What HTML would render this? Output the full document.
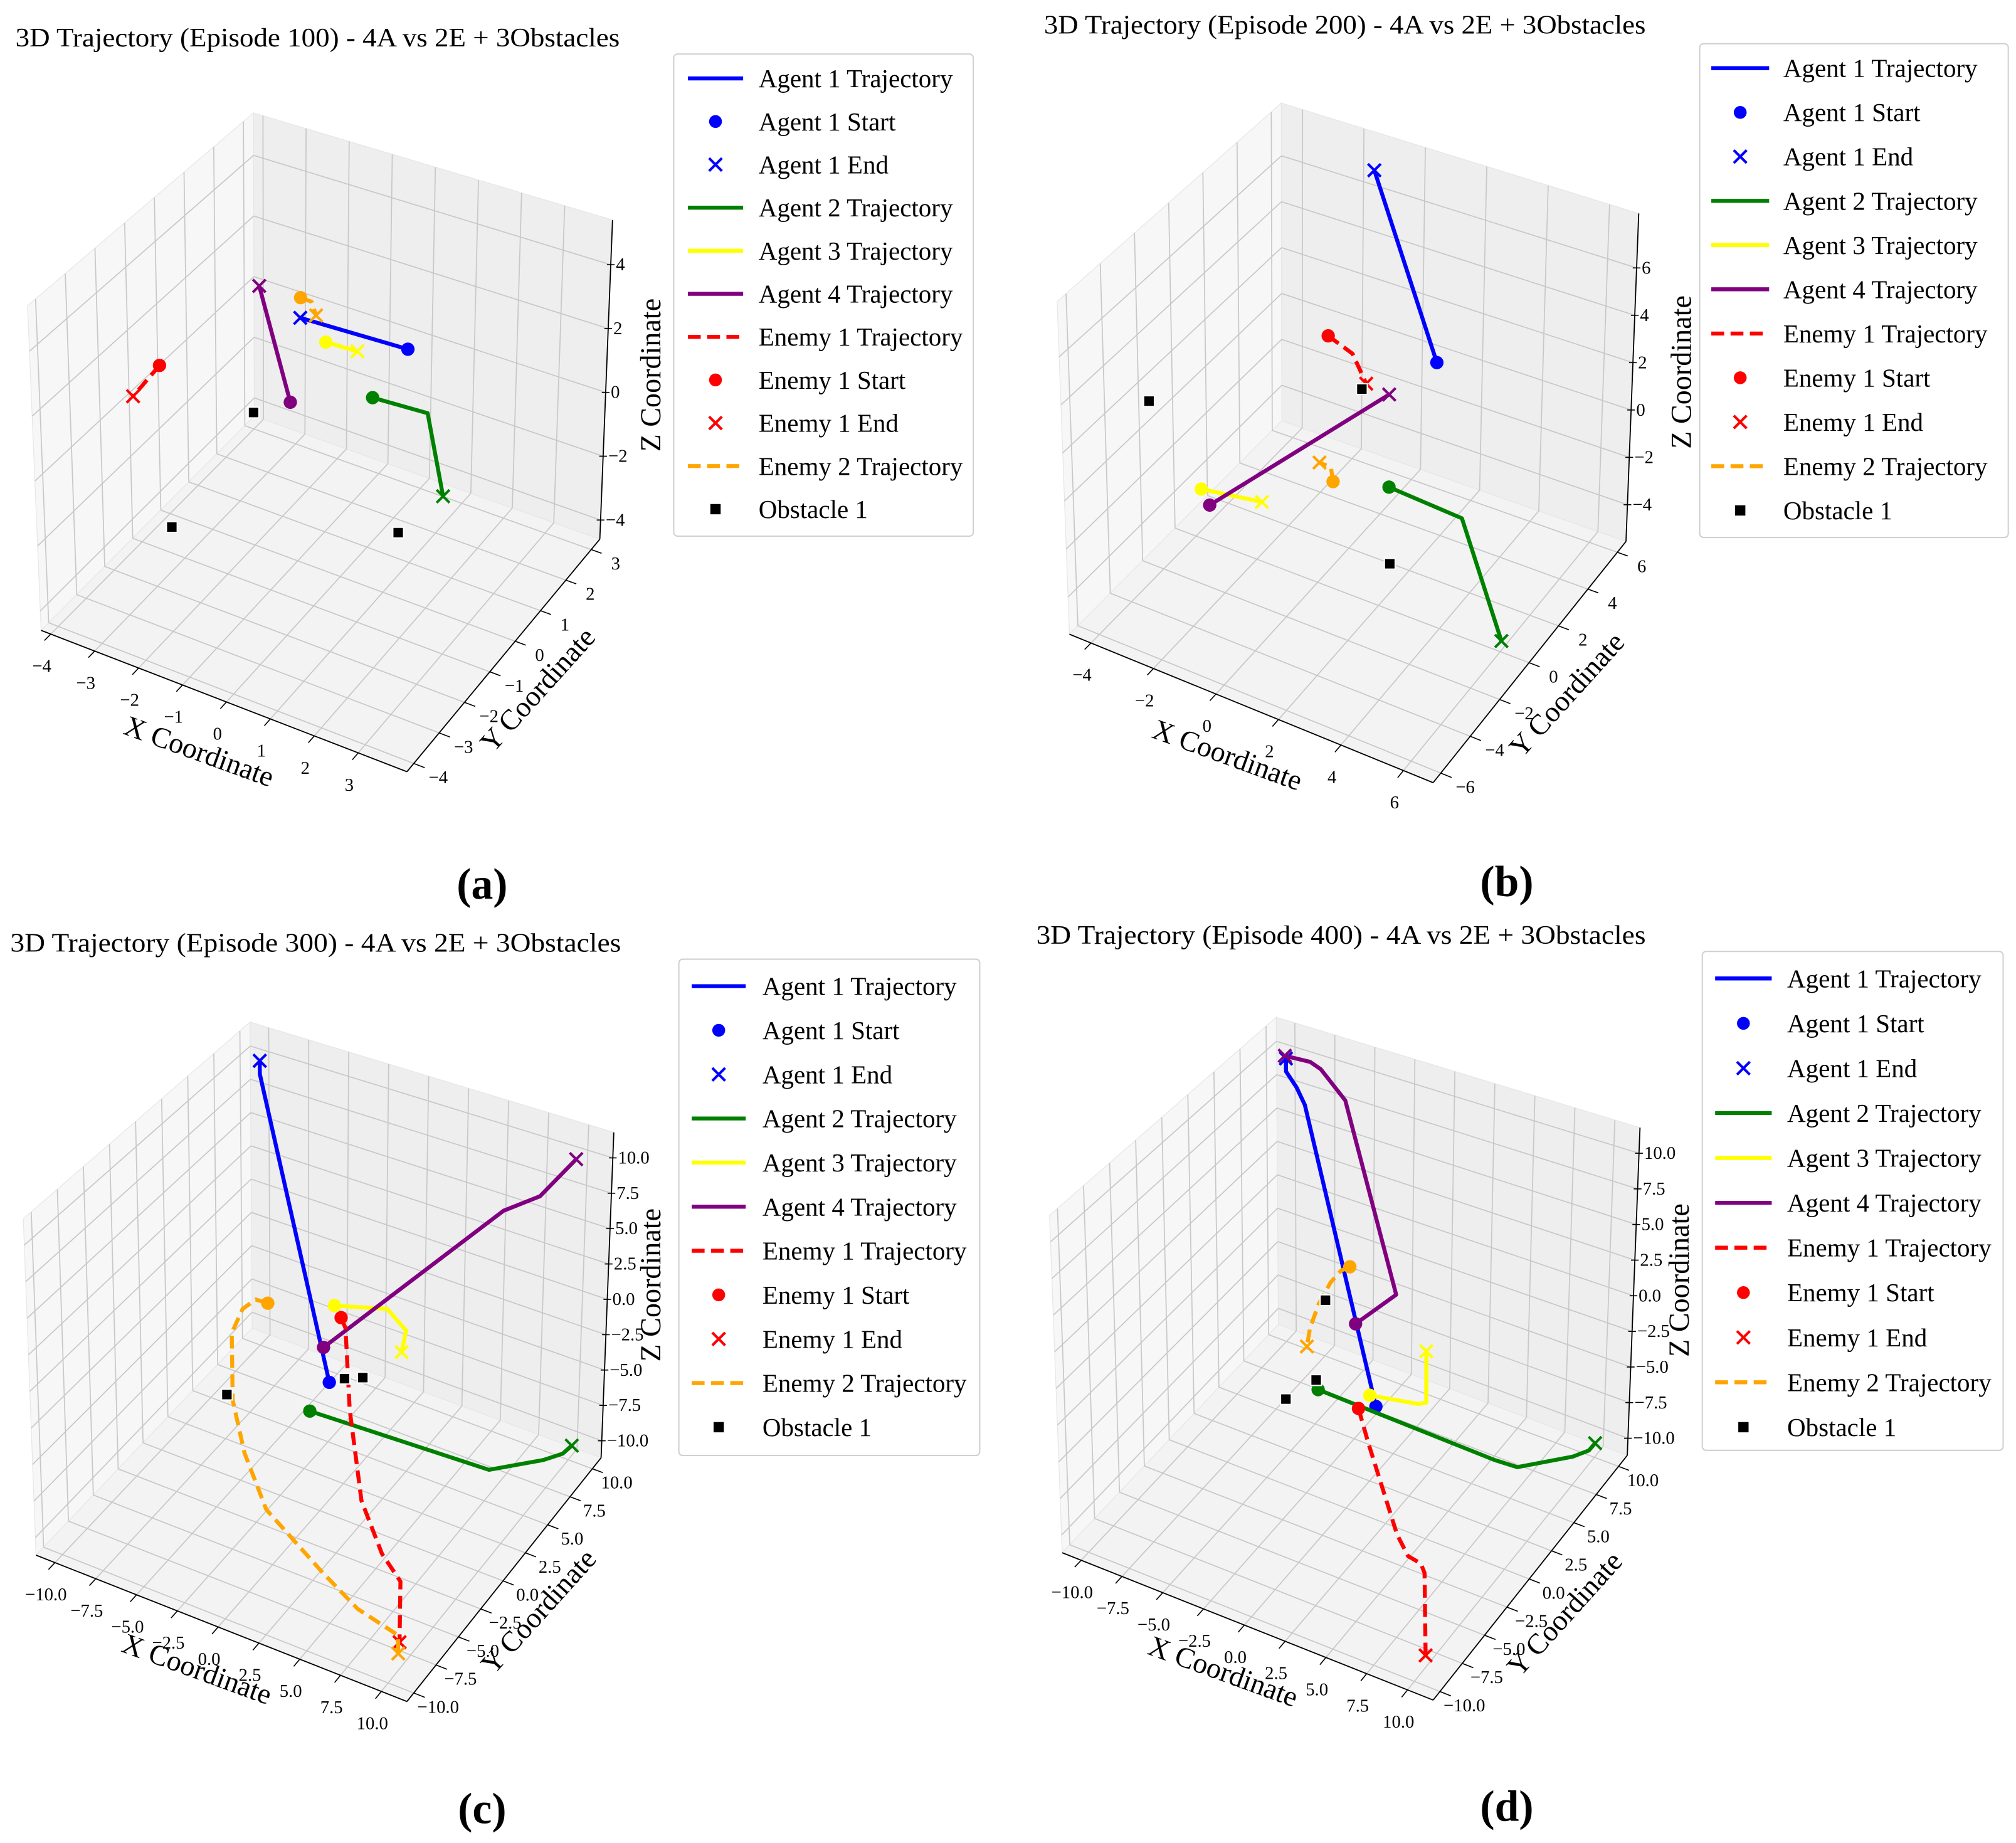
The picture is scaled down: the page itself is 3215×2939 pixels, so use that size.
<!DOCTYPE html>
<html><head><meta charset="utf-8"><title>3D Trajectories</title>
<style>
html,body{margin:0;padding:0;background:#fff;}
svg{display:block;font-family:"Liberation Serif",serif;}
</style></head>
<body>
<svg id="fig" xmlns="http://www.w3.org/2000/svg" width="3215" height="2939" viewBox="0 0 1568 1433.4">
<rect x="0" y="0" width="1568" height="1433.4" fill="#ffffff"/>
<text x="12" y="36" font-size="20.5" textLength="470" lengthAdjust="spacingAndGlyphs">3D Trajectory (Episode 100) - 4A vs 2E + 3Obstacles</text>
<text x="812" y="26" font-size="20.5" textLength="468" lengthAdjust="spacingAndGlyphs">3D Trajectory (Episode 200) - 4A vs 2E + 3Obstacles</text>
<text x="8" y="740" font-size="20.5" textLength="475" lengthAdjust="spacingAndGlyphs">3D Trajectory (Episode 300) - 4A vs 2E + 3Obstacles</text>
<text x="806" y="734" font-size="20.5" textLength="474" lengthAdjust="spacingAndGlyphs">3D Trajectory (Episode 400) - 4A vs 2E + 3Obstacles</text>
<text x="375" y="699" font-size="34" font-weight="bold" text-anchor="middle">(a)</text>
<text x="1172" y="697" font-size="34" font-weight="bold" text-anchor="middle">(b)</text>
<text x="375" y="1418" font-size="34" font-weight="bold" text-anchor="middle">(c)</text>
<text x="1172" y="1416" font-size="34" font-weight="bold" text-anchor="middle">(d)</text>
</svg>
<script>
// ---------- tick arrays ----------
const a_xTicks = [-4,-3,-2,-1,0,1,2,3];
const a_yTicks = [-4,-3,-2,-1,0,1,2,3];
const a_zTicks = [-4,-2,0,2,4];
const b_xTicks = [-4,-2,0,2,4,6];
const b_yTicks = [-6,-4,-2,0,2,4,6];
const b_zTicks = [-4,-2,0,2,4,6];
const cd_xTicks = [-10,-7.5,-5,-2.5,0,2.5,5,7.5,10];
const cd_yTicks = [-10,-7.5,-5,-2.5,0,2.5,5,7.5,10];
const cd_zTicks = [-10,-7.5,-5,-2.5,0,2.5,5,7.5,10];

// ---------- panel (a) data [x,y,z] ----------
const a_agent1 = [[1.84,-0.47,3.65],[-0.61,-0.47,3.56]];
const a_agent2 = [[1.04,-0.47,1.82],[2.30,-0.47,1.90],[2.67,-0.47,-0.46]];
const a_agent3 = [[-0.03,-0.47,3.06],[0.69,-0.47,3.09]];
const a_agent4 = [[-0.85,-0.47,0.83],[-1.54,-0.47,4.15]];
const a_enemy1 = [[-3.86,-0.47,0.60],[-4.49,-0.47,-0.68]];
const a_enemy2 = [[-0.60,-0.47,4.19],[-0.35,-0.47,4.17],[-0.25,-0.47,3.79]];
const a_obstacles = [[-1.70,-0.47,0.12],[-3.65,-0.47,-4.43],[1.64,-0.47,-2.04]];

// ---------- panel (b) data ----------
const b_agent1 = [[0.49,6.59,-0.74],[-1.65,6.59,6.64]];
const b_agent2 = [[2.32,0.035,-0.52],[4.69,0.035,-0.72],[6.02,0.035,-5.13]];
const b_agent3 = [[-3.82,0.035,-3.49],[-1.83,0.035,-3.08]];
const b_agent4 = [[-3.55,0.035,-4.04],[2.32,0.035,3.32]];
const b_enemy1 = [[0.36,0.035,4.89],[1.14,0.035,4.49],[1.58,0.035,3.44]];
const b_enemy2 = [[0.50,0.035,-1.13],[0.43,0.035,-0.56],[0.06,0.035,-0.54]];
const b_obstacles = [[-5.48,0.035,-0.54],[1.44,0.035,3.15],[2.35,0.035,-3.68]];

// ---------- panel (c) data ----------
const c_agent1 = [[0.57,0.11,-2.09],[-10.57,10.98,8.12],[-10.57,10.98,9.11]];
const c_agent2 = [[-0.66,0.11,-4.6],[10.55,0.11,-4.12],[10.89,5.55,-7.4],[12.1,5.55,-6.48],[12.66,5.55,-5.7]];
const c_agent3 = [[0.91,0.11,3.40],[4.18,0.11,4.44],[5.34,0.11,3.4],[5.07,0.11,1.80]];
const c_agent4 = [[0.22,0.11,0.21],[4.86,10.98,3.82],[7.12,10.98,5.69],[9.30,10.98,9.11]];
const c_enemy1 = [[1.32,0.11,2.72],[1.59,0.11,2.09],[1.84,0.11,-3.49],[2.57,0.11,-9.52],[7.02,-5.33,-7.25],[8.16,-5.33,-8.65],[11.16,-10.76,-7.47]];
const c_enemy2 = [[-3.23,0.11,1.93],[-3.98,0.11,1.89],[-4.8,0.11,0.90],[-5.5,0.11,-1.08],[-5.5,0.11,-5.84],[-4.8,0.11,-9.27],[-0.14,-5.33,-7.24],[3.34,-5.33,-10.1],[8.62,-10.76,-6.33],[11.07,-10.76,-7.04],[11.07,-10.76,-8.25]];
const c_obstacles = [[-5.86,0.11,-5.59],[1.52,0.11,-1.45],[2.66,0.11,-0.92]];

// ---------- panel (d) data ----------
const d_agent1 = [[1.84,0.11,-3.47],[-9.39,10.98,5.91],[-9.91,10.98,7.02],[-10.57,10.98,7.96],[-10.57,10.98,8.93]];
const d_agent2 = [[-1.77,0.11,-3.77],[9.27,0.11,-4.15],[10.68,0.11,-4.07],[11.09,5.55,-7.27],[12.1,5.55,-6.44],[12.48,5.55,-5.79]];
const d_agent3 = [[1.46,0.11,-2.85],[4.5,0.11,-2.23],[4.98,0.11,-1.93],[4.98,0.11,1.59]];
const d_agent4 = [[0.59,0.11,1.76],[3.11,0.11,4.76],[-6.84,10.98,7.2],[-8.39,10.98,8.95],[-9.05,10.98,9.24],[-10.64,10.98,9.11]];
const d_enemy1 = [[0.75,0.11,-4.05],[1.36,0.11,-6.2],[6.34,-5.33,-6.4],[7.02,-5.33,-7.57],[7.8,-5.33,-7.73],[11.14,-10.76,-3.06],[11.14,-10.76,-8.46]];
const d_enemy2 = [[0.25,0.11,5.59],[-0.30,0.11,5.11],[-0.95,0.11,4.03],[-1.70,0.11,2.22],[-2.25,0.11,0.32],[-2.45,0.11,-1.03]];
const d_obstacles = [[-1.27,0.11,2.67],[-1.89,0.11,-3.15],[-3.8,0.11,-5.27]];

const legendLabels = ["Agent 1 Trajectory","Agent 1 Start","Agent 1 End","Agent 2 Trajectory","Agent 3 Trajectory","Agent 4 Trajectory","Enemy 1 Trajectory","Enemy 1 Start","Enemy 1 End","Enemy 2 Trajectory","Obstacle 1"];

const NS = "http://www.w3.org/2000/svg";
const svg = document.getElementById('fig');
function mk(tag, attrs, parent){
  const e = document.createElementNS(NS, tag);
  for (const k in attrs) e.setAttribute(k, attrs[k]);
  parent.appendChild(e);
  return e;
}
const COL = {blue:'#0000ff', green:'#008000', yellow:'#ffff00', purple:'#800080', red:'#ff0000', orange:'#ffa500'};
const LW = 3.1;

const panels = [
 {id:'a', ox:0, oy:68.3, sx:0.3297, sy:0.3546,
  cb:[[97,1190],[960,1500],[1415,990],[600,720]], ct:[[65,478],[955,740],[1445,290],[598,55]],
  xr:[-4.22,4.11], yr:[-4.27,3.34], zr:[-4.6,5.4], xt:a_xTicks, yt:a_yTicks, zt:a_zTicks, dec:0,
  xl:[470,1455], yl:[1268,1320], zl:[1535,630],
  s:{agent1:a_agent1,agent2:a_agent2,agent3:a_agent3,agent4:a_agent4,enemy1:a_enemy1,enemy2:a_enemy2,obs:a_obstacles},
  lg:[524,42,757,417,61,33.5,535,578,590]},
 {id:'b', ox:799.8, oy:58.5, sx:0.3297, sy:0.3608,
  cb:[[97,1205],[955,1525],[1410,1005],[598,745]], ct:[[68,488],[950,765],[1440,298],[597,60]],
  xr:[-4.69,6.95], yr:[-6.52,6.59], zr:[-5.55,8.3], xt:b_xTicks, yt:b_yTicks, zt:b_zTicks, dec:0,
  xl:[470,1465], yl:[1270,1335], zl:[1540,640],
  s:{agent1:b_agent1,agent2:b_agent2,agent3:b_agent3,agent4:b_agent4,enemy1:b_enemy1,enemy2:b_enemy2,obs:b_obstacles},
  lg:[1322,34,1562,418,53,34.4,1331,1376,1387]},
 {id:'c', ox:0, oy:775.5, sx:0.3297, sy:0.3732,
  cb:[[85,1163],[960,1468],[1418,960],[595,690]], ct:[[55,462],[950,740],[1448,282],[590,52]],
  xr:[-11.16,11.57], yr:[-10.76,10.98], zr:[-11.2,11.8], xt:cd_xTicks, yt:cd_yTicks, zt:cd_zTicks, dec:1,
  xl:[465,1400], yl:[1270,1280], zl:[1535,600],
  s:{agent1:c_agent1,agent2:c_agent2,agent3:c_agent3,agent4:c_agent4,enemy1:c_enemy1,enemy2:c_enemy2,obs:c_obstacles},
  lg:[528,746,762,1132,767,34.3,538,580,593]},
 {id:'d', ox:799.8, oy:775.5, sx:0.3297, sy:0.3732,
  cb:[[80,1158],[955,1465],[1413,955],[590,682]], ct:[[50,455],[945,732],[1443,272],[585,42]],
  xr:[-11.16,11.57], yr:[-10.76,10.98], zr:[-11.2,11.8], xt:cd_xTicks, yt:cd_yTicks, zt:cd_zTicks, dec:1,
  xl:[460,1405], yl:[1265,1285], zl:[1535,590],
  s:{agent1:d_agent1,agent2:d_agent2,agent3:d_agent3,agent4:d_agent4,enemy1:d_enemy1,enemy2:d_enemy2,obs:d_obstacles},
  lg:[1324,740,1558,1128,761,34.9,1334,1378,1390]}
];

function bil(c,u,v){
  return [c[0][0]*(1-u)*(1-v)+c[1][0]*u*(1-v)+c[2][0]*u*v+c[3][0]*(1-u)*v,
          c[0][1]*(1-u)*(1-v)+c[1][1]*u*(1-v)+c[2][1]*u*v+c[3][1]*(1-u)*v];
}
function tri(P,u,v,w){
  const b=bil(P.cb,u,v), t=bil(P.ct,u,v);
  return [P.ox+(b[0]*(1-w)+t[0]*w)*P.sx, P.oy+(b[1]*(1-w)+t[1]*w)*P.sy];
}
function nu(P,x){return (x-P.xr[0])/(P.xr[1]-P.xr[0]);}
function nv(P,y){return (y-P.yr[0])/(P.yr[1]-P.yr[0]);}
function nw(P,z){return (z-P.zr[0])/(P.zr[1]-P.zr[0]);}
function proj(P,p){return tri(P,nu(P,p[0]),nv(P,p[1]),nw(P,p[2]));}
function zc(P,cx,cy){return [P.ox+cx*P.sx, P.oy+cy*P.sy];}
function fmt(v,dec){const s=Math.abs(v).toFixed(dec); return (v<0?'\u2212':'')+s;}
function pts(arr){return arr.map(p=>p[0].toFixed(2)+','+p[1].toFixed(2)).join(' ');}
function drawX(g,c,x,y,name){
  const e=mk('path',{d:`M${x-5},${y-5}L${x+5},${y+5}M${x-5},${y+5}L${x+5},${y-5}`,stroke:c,'stroke-width':2,fill:'none'},g);
  
  
}

panels.forEach(P=>{
  const g=mk('g',{},svg);
  
  
  const T=(u,v,w)=>tri(P,u,v,w);
  const panes=[
    ['pane-left',[T(0,0,0),T(0,1,0),T(0,1,1),T(0,0,1)],'#f7f7f7'],
    ['pane-back',[T(0,1,0),T(1,1,0),T(1,1,1),T(0,1,1)],'#eeeeee'],
    ['pane-floor',[T(0,0,0),T(1,0,0),T(1,1,0),T(0,1,0)],'#f3f3f3']];
  panes.forEach(pn=>{
    const e=mk('polygon',{points:pts(pn[1]),fill:pn[2],stroke:'#e6e6e6','stroke-width':0.6},g);
    
    
  });
  const grid=mk('g',{stroke:'#c8c8c8','stroke-width':0.85,fill:'none'},g);
  
  
  const line=(a,b)=>{const e=mk('line',{x1:a[0],y1:a[1],x2:b[0],y2:b[1]},grid);
    
    };
  P.xt.forEach(t=>{const u=nu(P,t); line(T(u,1,0),T(u,1,1)); line(T(u,0,0),T(u,1,0));});
  P.yt.forEach(t=>{const v=nv(P,t); line(T(0,v,0),T(0,v,1)); line(T(0,v,0),T(1,v,0));});
  P.zt.forEach(t=>{const w=nw(P,t); line(T(0,0,w),T(0,1,w)); line(T(0,1,w),T(1,1,w));});
  const ax=[['x-axis-line',T(0,0,0),T(1,0,0)],['y-axis-line',T(1,0,0),T(1,1,0)],['z-axis-line',T(1,1,0),T(1,1,1)]];
  ax.forEach(a=>{const e=mk('line',{x1:a[1][0],y1:a[1][1],x2:a[2][0],y2:a[2][1],stroke:'#000','stroke-width':0.9},g);
    
    });
  const tg=mk('g',{'font-size':14,fill:'#000'},g);
  
  
  P.xt.forEach(t=>{const u=nu(P,t), a=T(u,0,0), b=T(u,-0.03,0);
    const m=mk('line',{x1:a[0],y1:a[1],x2:b[0],y2:b[1],stroke:'#000','stroke-width':0.8},tg);
    
    
    const e=mk('text',{x:a[0]-7,y:a[1]+25,'text-anchor':'middle','dominant-baseline':'central'},tg);
    e.textContent=fmt(t,P.dec);
    
    });
  P.yt.forEach(t=>{const v=nv(P,t), a=T(1,v,0), b=T(1.03,v,0);
    const m=mk('line',{x1:a[0],y1:a[1],x2:b[0],y2:b[1],stroke:'#000','stroke-width':0.8},tg);
    
    
    const e=mk('text',{x:a[0]+19,y:a[1]+11,'text-anchor':'middle','dominant-baseline':'central'},tg);
    e.textContent=fmt(t,P.dec);
    
    });
  P.zt.forEach(t=>{const w=nw(P,t), a=T(1,1,w);
    const m=mk('line',{x1:a[0]-3,y1:a[1],x2:a[0]+3,y2:a[1],stroke:'#000','stroke-width':0.8},tg);
    
    
    const e=mk('text',{x:a[0]+4,y:a[1],'text-anchor':'start','dominant-baseline':'central'},tg);
    e.textContent=fmt(t,P.dec);
    
    });
  const xl=zc(P,P.xl[0],P.xl[1]), yl=zc(P,P.yl[0],P.yl[1]), zl=zc(P,P.zl[0],P.zl[1]);
  const xt=mk('text',{x:xl[0],y:xl[1],'font-size':22.5,'text-anchor':'middle','dominant-baseline':'central',transform:`rotate(20 ${xl[0]} ${xl[1]})`},g);
  xt.textContent='X Coordinate';
  
  
  const yt=mk('text',{x:yl[0],y:yl[1],'font-size':22.5,'text-anchor':'middle','dominant-baseline':'central',transform:`rotate(-48 ${yl[0]} ${yl[1]})`},g);
  yt.textContent='Y Coordinate';
  
  
  const ztl=mk('text',{x:zl[0],y:zl[1],'font-size':22.5,'text-anchor':'middle','dominant-baseline':'central',transform:`rotate(-90 ${zl[0]} ${zl[1]})`},g);
  ztl.textContent='Z Coordinate';
  
  

  const series=[['agent1',COL.blue,false],['agent2',COL.green,false],['agent3',COL.yellow,false],['agent4',COL.purple,false],['enemy1',COL.red,true],['enemy2',COL.orange,true]];
  series.forEach(sr=>{
    const data=P.s[sr[0]];
    const sp=data.map(p=>proj(P,p));
    const pl=mk('polyline',{points:pts(sp),fill:'none',stroke:sr[1],'stroke-width':LW,'stroke-linejoin':'round'},g);
    if(sr[2]) pl.setAttribute('stroke-dasharray','10 5');
    
    
    const s0=sp[0];
    const c=mk('circle',{cx:s0[0],cy:s0[1],r:5.2,fill:sr[1]},g);
    
    
    const s1=sp[sp.length-1];
    drawX(g,sr[1],s1[0],s1[1],sr[0]+'-end');
  });
  P.s.obs.forEach(o=>{
    const q=proj(P,o);
    const r=mk('rect',{x:q[0]-4.2,y:q[1]-4.2,width:8.4,height:8.4,fill:'#000',stroke:'#fff','stroke-width':1},g);
    
    
  });

  const L=P.lg;
  const lg=mk('g',{},svg);
  
  
  const box=mk('rect',{x:L[0],y:L[1],width:L[2]-L[0],height:L[3]-L[1],rx:3,fill:'#fff',stroke:'#d0d0d0','stroke-width':1},lg);
  
  
  const kinds=[['line',COL.blue],['dot',COL.blue],['x',COL.blue],['line',COL.green],['line',COL.yellow],['line',COL.purple],['dash',COL.red],['dot',COL.red],['x',COL.red],['dash',COL.orange],['sq','#000']];
  legendLabels.forEach((lab,i)=>{
    const y=L[4]+i*L[5], mx=(L[6]+L[7])/2, k=kinds[i];
    if(k[0]==='line'||k[0]==='dash'){
      const e=mk('line',{x1:L[6],y1:y,x2:L[7],y2:y,stroke:k[1],'stroke-width':LW},lg);
      if(k[0]==='dash') e.setAttribute('stroke-dasharray','10 5');
      
      
    } else if(k[0]==='dot'){
      const e=mk('circle',{cx:mx,cy:y,r:5,fill:k[1]},lg);
      
      
    } else if(k[0]==='x'){
      drawX(lg,k[1],mx,y,'legend-swatch');
    } else {
      const e=mk('rect',{x:mx-4,y:y-4,width:8,height:8,fill:'#000'},lg);
      
      
    }
    const t=mk('text',{x:L[8],y:y,'font-size':20,'dominant-baseline':'central'},lg);
    t.textContent=lab;
    
    
  });
});
</script>
</body></html>
